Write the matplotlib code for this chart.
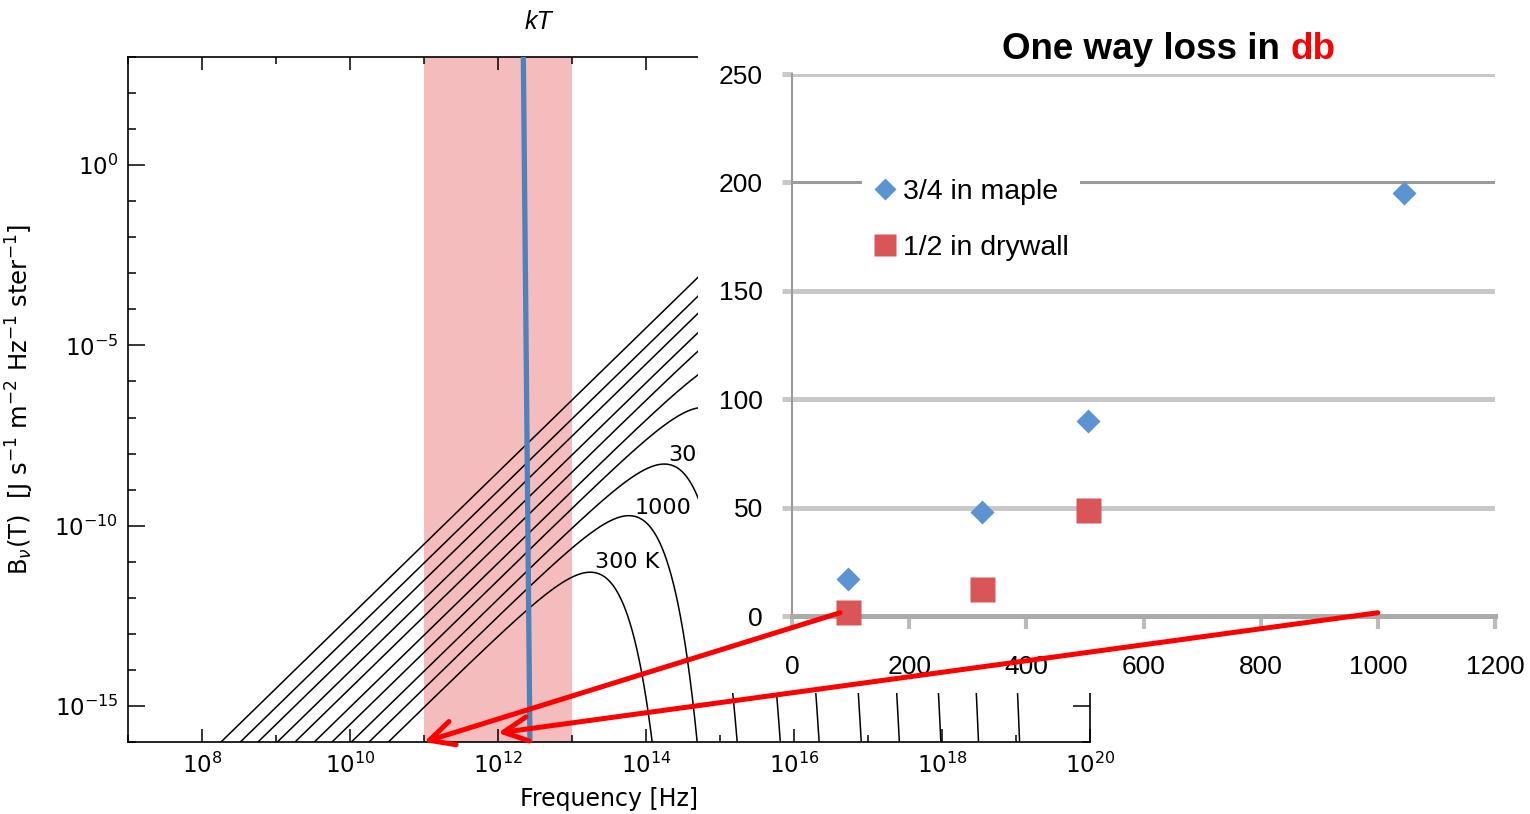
import numpy as np
import matplotlib
matplotlib.use("Agg")
import matplotlib.pyplot as plt
from matplotlib.patches import Rectangle, ConnectionPatch
from matplotlib.ticker import FixedLocator, FixedFormatter, NullFormatter
from matplotlib.transforms import blended_transform_factory

# ---- blackbody panel ----
temperatures = [300, 1000, 3000, 1e4, 3e4, 1e5, 3e5, 1e6, 3e6, 1e7]
curve_labels = [("300 K", 10**13.31, 10**-11.0),
                ("1000", 10**13.84, 10**-9.51),
                ("3000", 10**14.30, 10**-8.04)]
band_lo, band_hi = 1e11, 1e13
kt_top, kt_bottom = 2.2e12, 2.7e12
x_major = [1e8, 1e10, 1e12, 1e14, 1e16, 1e18, 1e20]
x_major_labels = [r"$10^{8}$", r"$10^{10}$", r"$10^{12}$", r"$10^{14}$",
                  r"$10^{16}$", r"$10^{18}$", r"$10^{20}$"]
y_major = [1e0, 1e-5, 1e-10, 1e-15]
y_major_labels = [r"$10^{0}$", r"$10^{-5}$", r"$10^{-10}$", r"$10^{-15}$"]

# ---- one way loss panel ----
freq_mhz = [95, 325, 505, 1045]
maple_db = [17, 48, 90, 195]
drywall_freq = [95, 325, 505]
drywall_db = [2, 12.5, 49]
loss_xticks = [0, 200, 400, 600, 800, 1000, 1200]
loss_yticks = [0, 50, 100, 150, 200, 250]

h = 6.626e-34
k = 1.381e-23
c = 2.998e8

W, H = 1530, 814
fig = plt.figure(figsize=(W / 100, H / 100), dpi=100)

ax = fig.add_axes([128 / W, 72 / H, 962 / W, 685 / H])
ax.set_xscale("log")
ax.set_yscale("log")

nu = np.logspace(7, 20, 5000)
for T in temperatures:
    with np.errstate(over="ignore"):
        B = 2 * h * nu**3 / c**2 / np.expm1(h * nu / (k * T))
    B = np.where(B > 0, B, np.nan)
    ax.plot(nu, B, color="black", lw=1.1, zorder=2)

ax.axvspan(band_lo, band_hi, color="#f4bcbc", lw=0, zorder=1)
ax.plot([kt_top, kt_bottom], [1e3, 1e-16], color="#4f81bd", lw=3.8,
        solid_capstyle="butt", zorder=3)

ax.set_xlim(1e7, 1e20)
ax.set_ylim(1e-16, 1e3)
ax.xaxis.set_major_locator(FixedLocator(x_major))
ax.xaxis.set_major_formatter(FixedFormatter(x_major_labels))
ax.xaxis.set_minor_locator(FixedLocator([10.0**e for e in range(7, 21, 2)]))
ax.xaxis.set_minor_formatter(NullFormatter())
ax.yaxis.set_major_locator(FixedLocator(y_major))
ax.yaxis.set_major_formatter(FixedFormatter(y_major_labels))
ax.yaxis.set_minor_locator(FixedLocator([10.0**e for e in range(-16, 4) if e % 5 != 0]))
ax.yaxis.set_minor_formatter(NullFormatter())
ax.tick_params(which="both", direction="in", top=True, right=True, width=1.1,
               labelsize=16.5)
ax.tick_params(axis="x", which="major", length=9.5, pad=8)
ax.tick_params(axis="x", which="minor", length=5)
ax.tick_params(axis="y", which="major", length=12.5, pad=7)
ax.tick_params(axis="y", which="minor", length=5.5)
for s in ax.spines.values():
    s.set_linewidth(1.2)

ax.set_xlabel("Frequency [Hz]", fontsize=17)
ax.xaxis.set_label_coords(0.5, -0.066)
ax.set_ylabel(r"B$_\nu$(T)  [J s$^{-1}$ m$^{-2}$ Hz$^{-1}$ ster$^{-1}$]", fontsize=17.5)
ax.yaxis.set_label_coords(-0.0956, 0.5)

for txt, xv, yv in curve_labels:
    ax.text(xv, yv, txt, fontsize=16, ha="left", va="center", zorder=4)

top_tr = blended_transform_factory(ax.transData, ax.transAxes)
ax.text(3.5e12, 1.051, "kT", transform=top_tr, fontsize=18, style="italic",
        family="Liberation Sans", ha="center", va="center")

# white backing for the inset chart
fig.add_artist(Rectangle((698 / W, 1 - 693 / H), (W - 698) / W, 693 / H,
                         transform=fig.transFigure, facecolor="white",
                         edgecolor="none", zorder=1))

ax2 = fig.add_axes([792 / W, 1 - 616 / H, 703 / W, 542 / H], zorder=2)
ax2.patch.set_visible(False)
ax2.plot(freq_mhz, maple_db, "D", color="#5b93d3", ms=12.5, mec="none",
         clip_on=False, zorder=4, label="3/4 in maple")
ax2.plot(drywall_freq, drywall_db, "s", color="#d95558", ms=18, mec="none",
         clip_on=False, zorder=4, label="1/2 in drywall")
ax2.set_xlim(0, 1200)
ax2.set_ylim(0, 250)
ax2.set_xticks(loss_xticks)
ax2.set_yticks(loss_yticks)
ax2.yaxis.grid(True, color="#c8c8c8", lw=3.6)
ax2.set_axisbelow(True)
ygl = ax2.get_ygridlines()
ygl[4].set_color("#9a9a9a")
ygl[4].set_linewidth(2.2)
for s in ("top", "right"):
    ax2.spines[s].set_visible(False)
ax2.spines["left"].set_color("#9a9a9a")
ax2.spines["left"].set_linewidth(1.5)
ax2.spines["bottom"].set_color("#aaaaaa")
ax2.spines["bottom"].set_linewidth(3.6)
ax2.tick_params(axis="y", direction="out", length=7, width=3.6, color="#c8c8c8",
                pad=14, labelsize=19)
ax2.tick_params(axis="x", direction="out", length=9, width=3, color="#bbbbbb",
                pad=19, labelsize=19)
ax2.yaxis.get_major_ticks()[4].tick1line.set_color("#9a9a9a")
for lab in ax2.get_xticklabels() + ax2.get_yticklabels():
    lab.set_family("Liberation Sans")

leg = ax2.legend(loc="upper left", bbox_to_anchor=(0.0996, 0.827), borderaxespad=0,
                 frameon=True, fancybox=False, facecolor="white", edgecolor="none",
                 framealpha=1, prop={"family": "Liberation Sans", "size": 20.5},
                 handlelength=0.8, handletextpad=0.25, borderpad=0.4,
                 labelspacing=1.06, markerscale=0.87)
leg.set_zorder(5)

fig.text(1280 / W, 1 - 59 / H, "One way loss in", fontsize=26.5, weight="bold",
         family="Liberation Sans", ha="right", va="baseline")
fig.text(1291 / W, 1 - 59 / H, "db", fontsize=26.5, weight="bold", color="red",
         family="Liberation Sans", ha="left", va="baseline")

arrow_kw = dict(arrowstyle="->,head_length=0.7,head_width=0.35", mutation_scale=25,
                color="red", lw=3.6, zorder=10)
fig.add_artist(ConnectionPatch(xyA=(82, 1.5), coordsA=ax2.transData,
                               xyB=(1e11, 1e-16), coordsB=ax.transData, **arrow_kw))
fig.add_artist(ConnectionPatch(xyA=(1000, 1.5), coordsA=ax2.transData,
                               xyB=(1e12, 10**-15.75), coordsB=ax.transData, **arrow_kw))

fig.savefig("out.png", dpi=100)
